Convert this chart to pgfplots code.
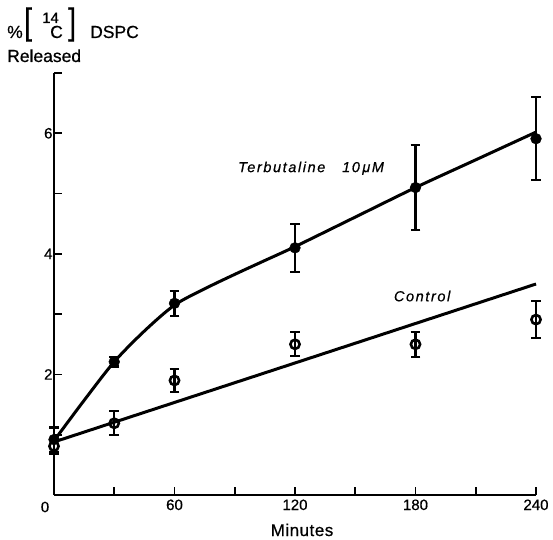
\documentclass[border=0pt]{standalone}
\usepackage{fontspec}
\setmainfont{Liberation Sans}
\usepackage{pgfplots}
\pgfplotsset{compat=1.18}
\begin{document}
\begin{tikzpicture}
\useasboundingbox (-54pt,-44pt) rectangle (499pt,495pt);
\begin{axis}[
  at={(0pt,0pt)}, anchor=south west,
  scale only axis, width=482pt, height=422pt,
  xmin=0, xmax=240, ymin=0, ymax=7,
  axis x line*=bottom, axis y line*=left,
  axis line style={line width=1.8pt, -},
  xtick={30,60,...,240}, xticklabels={,60,,120,,180,,240},
  ytick={1,2,...,7}, yticklabels={,2,,4,,6,},
  tick align=inside, major tick length=8pt,
  tick style={line width=1.6pt, black},
  ticklabel style={font=\fontsize{15}{17}\selectfont\addfontfeatures{FakeBold=0.6}},
  xticklabel style={yshift=-1pt},
  yticklabel style={xshift=2pt},
  /pgf/number format/assume math mode=true,
  clip=false,
]
% Terbutaline fitted curve
\addplot[black, line width=3pt, smooth, tension=0.5] coordinates {
  (0,0.90) (15,1.57) (30,2.21) (45,2.72) (60,3.15) (75,3.42) (90,3.66)
  (105,3.89) (120,4.12) (150,4.61) (180,5.10) (210,5.56) (240,6.02)};
% Control fitted line
\addplot[black, line width=3pt] coordinates {(0,0.88) (240,3.50)};
% Control data (open)
\addplot[only marks, mark=o, mark size=4.6pt, black,
  mark options={fill=white, line width=2.6pt},
  error bars/.cd, y dir=both, y explicit,
  error bar style={line width=2.2pt},
  error mark options={rotate=90, mark size=4.8pt, line width=2.2pt}]
  coordinates {
  (0,0.81) +- (0,0.12)
  (30,1.19) +- (0,0.20)
  (60,1.90) +- (0,0.19)
  (120,2.50) +- (0,0.20)
  (180,2.50) +- (0,0.21)
  (240,2.91) +- (0,0.31)};
% Terbutaline data (filled)
\addplot[only marks, mark=*, mark size=5.4pt, black,
  error bars/.cd, y dir=both, y explicit,
  error bar style={line width=2.2pt},
  error mark options={rotate=90, mark size=4.8pt, line width=2.2pt}]
  coordinates {
  (0,0.92) +- (0,0.20)
  (30,2.21) +- (0,0.08)
  (60,3.18) +- (0,0.21)
  (120,4.10) +- (0,0.40)
  (180,5.10) +- (0,0.70)
  (240,5.91) +- (0,0.69)};
\node[font=\fontsize{14.5}{16}\selectfont\itshape\addfontfeatures{LetterSpace=11,FakeBold=0.5}] at (axis cs:128,5.42) {Terbutaline\ \ \ 10\,μM};
\node[font=\fontsize{14.5}{16}\selectfont\itshape\addfontfeatures{LetterSpace=11,FakeBold=0.5}] at (axis cs:183.3,3.30) {Control};
\end{axis}
% corner zero
\node[font=\fontsize{15}{17}\selectfont\addfontfeatures{FakeBold=0.6}] at (-9pt,-12pt) {0};
% x label
\node[anchor=base, inner sep=0pt, font=\fontsize{17}{19}\selectfont\addfontfeatures{LetterSpace=3,FakeBold=0.6}] at (248pt,-41pt) {Minutes};
% y label
\begin{scope}[every node/.style={anchor=base west, inner sep=0pt, font=\fontsize{17.5}{19}\selectfont\addfontfeatures{FakeBold=0.6}}]
\node at (-47pt,457pt) {\%};
\node at (-30pt,461pt) {\scalebox{1.6}[2.1]{[}};
\node[font=\fontsize{15}{16}\selectfont\addfontfeatures{FakeBold=0.6}] at (-12pt,472pt) {14};
\node at (-4pt,457pt) {C};
\node at (14pt,461pt) {\scalebox{1.6}[2.1]{]}};
\node at (36pt,457pt) {DSPC};
\node at (-47pt,433pt) {Released};
\end{scope}
\end{tikzpicture}
\end{document}
